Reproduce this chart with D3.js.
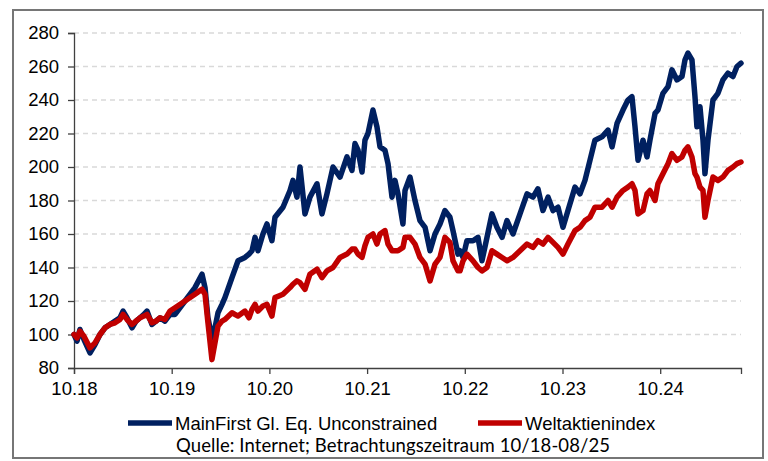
<!DOCTYPE html>
<html>
<head>
<meta charset="utf-8">
<script src="https://cdn.jsdelivr.net/npm/d3@7"></script>
<style>
  body { margin: 0; background: #fff; }
  svg { display: block; }
</style>
</head>
<body>
<div id="main"></div>
<script>
// decimal years (x)
var years = [
  2018.750, 2018.781, 2018.811, 2018.852, 2018.914, 2018.965, 2019.016, 2019.067, 2019.118, 2019.170,
  2019.221, 2019.252, 2019.292, 2019.344, 2019.385, 2019.426, 2019.466, 2019.497, 2019.548, 2019.589,
  2019.630, 2019.681, 2019.733, 2019.784, 2019.886, 2019.988, 2020.060, 2020.091, 2020.121, 2020.162,
  2020.193, 2020.224, 2020.265, 2020.295, 2020.367, 2020.429, 2020.500, 2020.541, 2020.572, 2020.603,
  2020.633, 2020.684, 2020.725, 2020.776, 2020.807, 2020.889, 2020.961, 2020.991, 2021.032, 2021.063,
  2021.114, 2021.165, 2021.237, 2021.288, 2021.339, 2021.401, 2021.473, 2021.544, 2021.595, 2021.626,
  2021.657, 2021.698, 2021.728, 2021.759, 2021.810, 2021.851, 2021.882, 2021.933, 2021.964, 2022.005,
  2022.035, 2022.066, 2022.117, 2022.138, 2022.189, 2022.240, 2022.291, 2022.343, 2022.394, 2022.445,
  2022.496, 2022.547, 2022.598, 2022.629, 2022.680, 2022.701, 2022.732, 2022.772, 2022.834, 2022.885,
  2022.926, 2022.977, 2023.028, 2023.079, 2023.131, 2023.182, 2023.243, 2023.315, 2023.387, 2023.448,
  2023.499, 2023.550, 2023.602, 2023.653, 2023.704, 2023.755, 2023.806, 2023.878, 2023.929, 2023.980,
  2024.031, 2024.082, 2024.154, 2024.216, 2024.257, 2024.308, 2024.369, 2024.420, 2024.461, 2024.492,
  2024.523, 2024.574, 2024.615, 2024.645, 2024.697, 2024.727, 2024.778, 2024.830, 2024.870, 2024.922,
  2024.973, 2025.004, 2025.034, 2025.075, 2025.106, 2025.126, 2025.157, 2025.188, 2025.208, 2025.239,
  2025.290, 2025.341, 2025.392, 2025.444, 2025.495, 2025.536, 2025.577
];
var mainFirst = [
  100, 96, 103, 97, 89, 94, 100, 104, 106, 108,
  110, 114, 110, 104, 108, 110, 112, 114, 106, 108,
  110, 108, 112, 112, 120, 128, 136, 128, 110, 98,
  104, 113, 118, 122, 134, 144, 146, 148, 150, 158,
  150, 160, 166, 156, 170, 176, 186, 192, 182, 200,
  172, 182, 190, 172, 184, 200, 194, 206, 198, 214,
  210, 197, 216, 220, 234, 224, 212, 210, 202, 182,
  192, 184, 166, 186, 194, 180, 168, 164, 150, 160,
  166, 174, 170, 162, 148, 150, 146, 156, 156, 158,
  144, 158, 172, 164, 158, 168, 160, 172, 184, 182,
  187, 174, 182, 174, 176, 164, 174, 188, 184, 192,
  204, 216, 218, 222, 212, 226, 234, 240, 242, 224,
  204, 216, 206, 216, 232, 234, 244, 248, 258, 252,
  254, 264, 268, 264, 242, 224, 236, 216, 196, 216,
  240, 244, 252, 256, 254, 260, 262
];
var weltIndex = [
  100, 98, 102, 99, 92, 95, 100, 104, 106, 107,
  109, 112, 109, 106, 108, 110, 111, 112, 107, 108,
  110, 109, 114, 116, 120, 124, 127, 124, 107, 85,
  95, 105, 108, 109, 113, 111, 114, 110, 115, 118,
  114, 117, 118, 111, 122, 124, 128, 130, 132, 131,
  127, 136, 139, 134, 138, 140, 146, 148, 151, 151,
  148, 146, 153, 158, 160, 154, 160, 162, 154, 150,
  150, 150, 152, 158, 158, 154, 146, 142, 132, 142,
  146, 158, 155, 144, 138, 138, 144, 148, 144, 140,
  138, 140, 150, 148, 146, 144, 146, 150, 154, 152,
  156, 154, 158, 155, 152, 148, 154, 162, 164, 168,
  170, 176, 176, 180, 176, 182, 186, 188, 190, 186,
  172, 174, 184, 186, 180, 190, 196, 202, 208, 204,
  206, 210, 212, 206, 196, 194, 188, 186, 170, 180,
  194, 192, 194, 198, 200, 202, 203
];
var seriesNames = ["MainFirst Gl. Eq. Unconstrained", "Weltaktienindex"];
var xTickValues = [2018.75, 2019.75, 2020.75, 2021.75, 2022.75, 2023.75, 2024.75];
var xTickLabels = ["10.18", "10.19", "10.20", "10.21", "10.22", "10.23", "10.24"];
var yTicks = [80, 100, 120, 140, 160, 180, 200, 220, 240, 260, 280];
var sourceText = "Quelle: Internet; Betrachtungszeitraum 10/18-08/25";

var width = 768, height = 461;
var blue = "#002060", red = "#c00000";
var axisFont = "'Liberation Sans', Arial, sans-serif";

var svg = d3.select('#main')
    .append('svg')
    .attr('width', width)
    .attr('height', height);

// outer frame
svg.append('rect')
    .attr('x', 13).attr('y', 10)
    .attr('width', 750).attr('height', 448)
    .attr('fill', '#fff')
    .attr('stroke', '#767676')
    .attr('stroke-width', 2);

var x = d3.scaleLinear().domain([2018.75, 2025.577]).range([74, 741]);
var y = d3.scaleLinear().domain([80, 280]).range([368, 33]);

// dashed gridlines
svg.append('g')
    .selectAll('line')
    .data(yTicks.filter(d => d > 80))
    .join('line')
    .attr('x1', x.range()[0]).attr('x2', x.range()[1])
    .attr('y1', d => y(d)).attr('y2', d => y(d))
    .attr('stroke', '#d9d9d9')
    .attr('stroke-width', 1.3)
    .attr('stroke-dasharray', '5,4');

// axes
var yAxis = svg.append('g')
    .attr('transform', `translate(${x.range()[0]},0)`)
    .call(d3.axisLeft(y).tickValues(yTicks).tickSize(6).tickPadding(9));
var xAxis = svg.append('g')
    .attr('transform', `translate(0,${y.range()[0]})`)
    .call(d3.axisBottom(x).tickValues(xTickValues)
        .tickFormat((d, i) => xTickLabels[i]).tickSize(6).tickPadding(8));

[yAxis, xAxis].forEach(function (g) {
    g.select('.domain').attr('stroke', '#404040').attr('stroke-width', 1.3);
    g.selectAll('.tick line').attr('stroke', '#404040').attr('stroke-width', 1.3);
    g.selectAll('.tick text')
        .attr('fill', '#000')
        .style('font-family', axisFont)
        .style('font-size', '18.5px');
});

// series
var line = d3.line()
    .x((d, i) => x(years[i]))
    .y(d => y(d));

[[mainFirst, blue], [weltIndex, red]].forEach(function (s) {
    svg.append('path')
        .attr('d', line(s[0]))
        .attr('fill', 'none')
        .attr('stroke', s[1])
        .attr('stroke-width', 5.5)
        .attr('stroke-linejoin', 'round')
        .attr('stroke-linecap', 'round');
});

// legend
var legend = svg.append('g').style('font-family', axisFont).style('font-size', '18.5px');
[[128, blue], [478, red]].forEach(function (l, i) {
    legend.append('line')
        .attr('x1', l[0]).attr('x2', l[0] + 44)
        .attr('y1', 423).attr('y2', 423)
        .attr('stroke', l[1])
        .attr('stroke-width', 5.5);
    legend.append('text')
        .attr('x', l[0] + 47)
        .attr('y', 430)
        .text(seriesNames[i]);
});

svg.append('text')
    .attr('x', 176)
    .attr('y', 452)
    .attr('textLength', 434)
    .attr('lengthAdjust', 'spacing')
    .style('font-family', 'Lato, Carlito, sans-serif')
    .style('font-size', '18.5px')
    .text(sourceText);
</script>
</body>
</html>
